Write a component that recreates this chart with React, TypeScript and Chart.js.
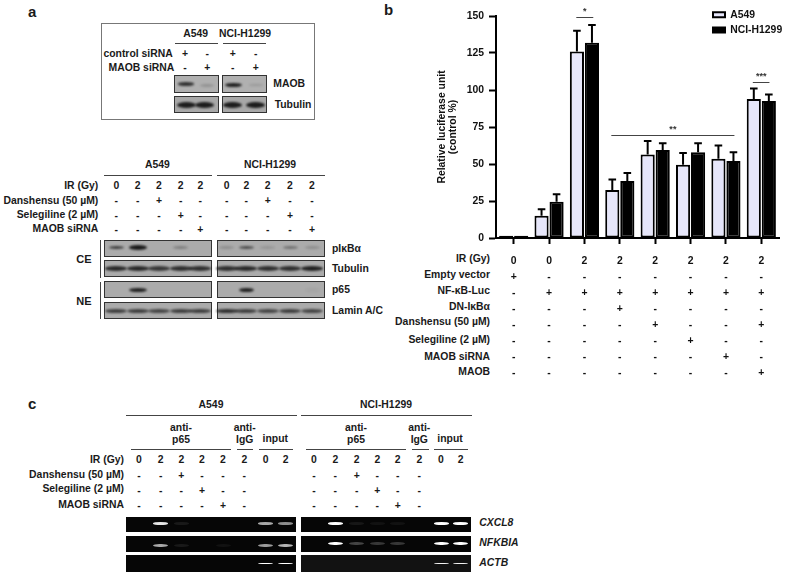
import React, { useEffect, useRef } from "react";
import { Chart, registerables } from "chart.js";

Chart.register(...registerables);

// ---------- panel b data ----------
const irRow = ["0", "0", "2", "2", "2", "2", "2", "2"];
const emptyVectorRow = ["+", "-", "-", "-", "-", "-", "-", "-"];
const nfkbRow = ["-", "+", "+", "+", "+", "+", "+", "+"];
const dnRow = ["-", "-", "-", "+", "-", "-", "-", "-"];
const danshensuRow = ["-", "-", "-", "-", "+", "-", "-", "+"];
const selegilineRow = ["-", "-", "-", "-", "-", "+", "-", "-"];
const maobSiRow = ["-", "-", "-", "-", "-", "-", "+", "-"];
const maobRow = ["-", "-", "-", "-", "-", "-", "-", "+"];
const rowTitles = ["IR (Gy)", "Empty vector", "NF-κB-Luc", "DN-IκBα", "Danshensu (50 µM)", "Selegiline (2 µM)", "MAOB siRNA", "MAOB"];
const a549Values = [1.5, 15, 126, 32.5, 56.5, 49.5, 53.5, 94];
const h1299Values = [1.5, 24.5, 132, 38.5, 59.5, 58, 52, 92.5];
const a549ErrorTops = [1.5, 19.5, 140, 39.5, 65.5, 57.5, 62.5, 101];
const h1299ErrorTops = [1.5, 29.5, 144, 44, 64, 64, 58, 97];
const sigLabels = ["*", "**", "***"];
const sigFrom = [1.77, 2.76, 6.76];
const sigTo = [2.25, 6.24, 7.23];
const sigValues = [149, 69.6, 105.5];

const FONT = "'Liberation Sans', Arial, sans-serif";
const categories = irRow.map((v, i) => [v, emptyVectorRow[i], nfkbRow[i], dnRow[i], danshensuRow[i], selegilineRow[i], maobSiRow[i], maobRow[i]]);

type TP = { x: number; y: number; t: string; a?: "l" | "c" | "r"; s?: number; i?: boolean };
const T = ({ x, y, t, a = "c", s = 10.4, i = false }: TP) => (
  <span
    style={{
      position: "absolute", left: x, top: y, whiteSpace: "nowrap", fontFamily: FONT, fontWeight: 700, fontSize: s,
      fontStyle: i ? "italic" : "normal", lineHeight: 1, color: "#1a1a1a",
      transform: `translate(${a === "l" ? "0" : a === "c" ? "-50%" : "-100%"},-50%)`,
    }}
  >{t}</span>
);
const Line = ({ x1, x2, y, c = "#444" }: { x1: number; x2: number; y: number; c?: string }) => (
  <div style={{ position: "absolute", left: x1, top: y - 0.5, width: x2 - x1, height: 1, background: c }} />
);
const Box = ({ x1, x2, y1, y2, bg, bd = "1.5px solid #333" }: { x1: number; x2: number; y1: number; y2: number; bg: string; bd?: string }) => (
  <div style={{ position: "absolute", left: x1, top: y1, width: x2 - x1, height: y2 - y1, background: bg, border: bd, boxSizing: "border-box" }} />
);
const Band = ({ x, y, w, h, c, b = 0.8 }: { x: number; y: number; w: number; h: number; c: string; b?: number }) => (
  <div style={{ position: "absolute", left: x - w / 2, top: y - h / 2, width: w, height: h, background: c, borderRadius: "50%", filter: `blur(${b}px)` }} />
);
const Row = ({ xs, y, vals }: { xs: number[]; y: number; vals: string[] }) => (
  <>{vals.map((v, i) => (v ? <T key={i} x={xs[i]} y={y} t={v} /> : null))}</>
);

// ---------- panel a / c layout ----------
const aTopX = [185, 207.3, 232.7, 255.7];
const aX = [116.3, 137.7, 159, 180.7, 200.3, 226.7, 246.3, 267.7, 290, 312];
const cX1 = [139, 160.7, 181.3, 202, 223, 244.3, 265.7, 285.7];
const cX2 = [314, 335.3, 356.7, 377.3, 397.7, 419.3, 441, 460.7];
const cX = [...cX1, ...cX2];
const cIR = ["0", "2", "2", "2", "2", "2", "0", "2", "0", "2", "2", "2", "2", "2", "0", "2"];
const cDan = ["-", "-", "+", "-", "-", "-", "", "", "-", "-", "+", "-", "-", "-", "", ""];
const cSel = ["-", "-", "-", "+", "-", "-", "", "", "-", "-", "-", "+", "-", "-", "", ""];
const cSi = ["-", "-", "-", "-", "+", "-", "", "", "-", "-", "-", "-", "+", "-", "", ""];

const dk = "#1c1c1c";
const grayBand = (v: number) => `rgba(25,25,25,${v})`;
const whiteBand = (v: number) => `rgba(255,255,255,${v})`;
const aLaneWest = [
  { y: 247.7, vals: [0.75, 1, 0, 0.3, 0, 0.2, 0.65, 0.15, 0.4, 0.2], h: 3 },
  { y: 268.5, vals: [0.9, 0.9, 0.8, 0.85, 0.85, 0.85, 0.9, 0.85, 0.85, 0.95], h: 4.5 },
  { y: 290, vals: [0, 0.95, 0, 0, 0, 0, 0.95, 0, 0, 0.04], h: 4 },
  { y: 310.5, vals: [0.75, 0.75, 0.7, 0.75, 0.75, 0.85, 0.75, 0.7, 0.75, 0.7], h: 4 },
];
const cGelRows = [
  { y: 523.5, h: 2.5, vals: [0, 0.9, 0.08, 0, 0, 0, 0.65, 0.55, 0, 1, 0.07, 0.05, 0.05, 0, 1, 1] },
  { y: 545.5, h: 3.5, vals: [0, 0.65, 0.08, 0, 0.05, 0, 0.6, 0.7, 0, 1, 0.25, 0.2, 0.2, 0, 1, 1] },
  { y: 563.5, h: 1.8, vals: [0, 0, 0, 0, 0, 0, 1, 1, 0, 0, 0, 0, 0, 0, 0.95, 0.95] },
];

export default function App() {
  const ref = useRef<HTMLCanvasElement>(null);
  useEffect(() => {
    const placement = {
      id: "placement",
      afterLayout(c: any) {
        if (c.legend) {
          const w = c.legend.right - c.legend.left;
          c.legend.left = 288;
          c.legend.right = 288 + w;
          c.legend.top = 4.5;
          c.legend.bottom = 60;
        }
      },
    };
    const errorBars = {
      id: "errorBars",
      afterDatasetsDraw(c: any) {
        const { ctx, scales } = c;
        ctx.save();
        ctx.strokeStyle = "#000";
        ctx.lineWidth = 2;
        c.data.datasets.forEach((ds: any, di: number) => {
          c.getDatasetMeta(di).data.forEach((el: any, i: number) => {
            const top = scales.y.getPixelForValue(ds.errorTops[i]);
            if (ds.errorTops[i] <= ds.data[i]) return;
            ctx.beginPath();
            ctx.moveTo(el.x, el.y);
            ctx.lineTo(el.x, top);
            ctx.moveTo(el.x - 3.8, top);
            ctx.lineTo(el.x + 3.8, top);
            ctx.stroke();
          });
        });
        ctx.restore();
      },
    };
    const significance = {
      id: "significance",
      afterDraw(c: any) {
        const { ctx, scales } = c;
        const step = scales.x.getPixelForValue(1) - scales.x.getPixelForValue(0);
        const x0 = scales.x.getPixelForValue(0);
        ctx.save();
        ctx.strokeStyle = "#444";
        ctx.lineWidth = 1;
        ctx.fillStyle = "#333";
        ctx.font = `700 9px ${FONT}`;
        ctx.textAlign = "center";
        sigLabels.forEach((label, i) => {
          const y = Math.round(scales.y.getPixelForValue(sigValues[i])) + 0.5;
          const a = x0 + sigFrom[i] * step;
          const b = x0 + sigTo[i] * step;
          ctx.beginPath();
          ctx.moveTo(a, y);
          ctx.lineTo(b, y);
          ctx.stroke();
          ctx.fillText(label, (a + b) / 2, y - 4);
        });
        ctx.restore();
      },
    };
    const tickFont = { family: FONT, weight: 700 as const, size: 10.4 };
    const chart = new Chart(ref.current as HTMLCanvasElement, {
      type: "bar",
      data: {
        labels: categories,
        datasets: [
          { label: "A549", data: a549Values, errorTops: a549ErrorTops, backgroundColor: "#e6e6fa", borderColor: "#000", borderWidth: 2, borderSkipped: false, categoryPercentage: 0.85, barPercentage: 0.94 } as any,
          { label: "NCI-H1299", data: h1299Values, errorTops: h1299ErrorTops, backgroundColor: "#000", borderColor: "#000", borderWidth: 2, borderSkipped: false, categoryPercentage: 0.85, barPercentage: 0.94 } as any,
        ],
      },
      options: {
        responsive: false,
        animation: false,
        layout: { padding: { left: 0, right: 8, top: 16, bottom: 0 } },
        plugins: {
          tooltip: { enabled: false },
          title: { display: false },
          legend: {
            position: "chartArea" as any,
            align: "start",
            labels: { boxWidth: 12, boxHeight: 5, padding: 5, color: "#111", font: { family: FONT, weight: 700 as const, size: 10.4 } },
          },
        },
        scales: {
          x: {
            afterFit: (s: any) => { s.height = 162; },
            border: { width: 2, color: "#000" },
            grid: { display: true, drawOnChartArea: false, offset: false, tickLength: 6, tickWidth: 2, tickColor: "#000" },
            ticks: { autoSkip: false, maxRotation: 0, minRotation: 0, padding: 9, color: "#111", font: { ...tickFont, lineHeight: "16px" } },
          },
          y: {
            min: 0,
            max: 150,
            afterFit: (s: any) => { s.width = 76; },
            border: { width: 2, color: "#000" },
            grid: { display: true, drawOnChartArea: false, tickLength: 7, tickWidth: 2, tickColor: "#000" },
            ticks: { stepSize: 25, padding: 5, color: "#111", font: tickFont },
            title: {
              display: true,
              text: ["Relative luciferase unit", "(control %)"],
              color: "#111",
              font: { ...tickFont, lineHeight: "11.7px" },
              padding: { top: 16, bottom: 0 },
            },
          },
        },
      } as any,
      plugins: [placement, errorBars, significance],
    });
    return () => chart.destroy();
  }, []);

  return (
    <div style={{ position: "absolute", left: 0, top: 0, width: 787, height: 575, overflow: "hidden", background: "#fff" }}>
      {/* panel a */}
      <T x={28} y={10.5} t="a" a="l" s={15} />
      <Box x1={100.7} x2={314.7} y1={22.7} y2={120} bg="#fff" bd="1.5px solid #777" />
      <T x={195.7} y={34} t="A549" />
      <T x={245} y={34} t="NCI-H1299" />
      <Line x1={175.3} x2={217.7} y={43.3} />
      <Line x1={223} x2={266} y={43.3} />
      <T x={172.7} y={54} t="control siRNA" a="r" />
      <T x={174.3} y={67.7} t="MAOB siRNA" a="r" />
      <Row xs={aTopX} y={54} vals={["+", "-", "+", "-"]} />
      <Row xs={aTopX} y={67.7} vals={["-", "+", "-", "+"]} />
      {[[174.3, 218.7], [222.3, 266.7]].map(([a, b], i) => (
        <React.Fragment key={i}>
          <Box x1={a} x2={b} y1={75.3} y2={92.7} bg="#b0b0b0" />
          <Box x1={a} x2={b} y1={95.7} y2={112.7} bg="#a8a8a8" />
        </React.Fragment>
      ))}
      <Band x={185.7} y={84} w={16} h={3.5} c={grayBand(0.85)} />
      <Band x={207} y={85} w={14} h={3} c={grayBand(0.2)} />
      <Band x={233.5} y={84.5} w={17} h={4} c={grayBand(0.95)} />
      <Band x={256} y={85} w={14} h={2.5} c={grayBand(0.15)} />
      {aTopX.map((x, i) => <Band key={i} x={x + (i === 1 ? -3 : 0) + (i === 0 ? 1 : 0)} y={104.5} w={19} h={6} c={dk} />)}
      <T x={273.3} y={84} t="MAOB" a="l" />
      <T x={274.7} y={104.7} t="Tubulin" a="l" />

      <T x={157.3} y={165.3} t="A549" />
      <T x={270} y={165.3} t="NCI-H1299" />
      <Line x1={104.3} x2={211.7} y={175.3} />
      <Line x1={217.3} x2={324.7} y={175.3} />
      <T x={98.3} y={186} t="IR (Gy)" a="r" />
      <T x={98.3} y={200.7} t="Danshensu (50 µM)" a="r" />
      <T x={98.3} y={215} t="Selegiline (2 µM)" a="r" />
      <T x={98.3} y={229.3} t="MAOB siRNA" a="r" />
      <Row xs={aX} y={186} vals={["0", "2", "2", "2", "2", "0", "2", "2", "2", "2"]} />
      <Row xs={aX} y={201} vals={["-", "-", "+", "-", "-", "-", "-", "+", "-", "-"]} />
      <Row xs={aX} y={215.5} vals={["-", "-", "-", "+", "-", "-", "-", "-", "+", "-"]} />
      <Row xs={aX} y={229.5} vals={["-", "-", "-", "-", "+", "-", "-", "-", "-", "+"]} />
      {[[240, 256.7], [260, 276.7], [281, 298], [302, 318.7]].map(([y1, y2], r) => (
        <React.Fragment key={r}>
          <Box x1={104} x2={211.7} y1={y1} y2={y2} bg="#ababab" />
          <Box x1={217.3} x2={325} y1={y1} y2={y2} bg="#ababab" />
        </React.Fragment>
      ))}
      {aLaneWest.flatMap((row, r) =>
        row.vals.map((v, i) => (v > 0 ? <Band key={`${r}-${i}`} x={aX[i]} y={row.y} w={r % 2 ? 22 : i === 1 ? 18 : 15} h={row.h + (r === 0 && i === 1 ? 2 : 0)} c={grayBand(v)} /> : null))
      )}
      <div style={{ position: "absolute", left: 99.5, top: 240, width: 1, height: 37.5, background: "#444" }} />
      <div style={{ position: "absolute", left: 99.5, top: 281.7, width: 1, height: 37, background: "#444" }} />
      <T x={84} y={258.7} t="CE" s={11} />
      <T x={84} y={300.7} t="NE" s={11} />
      <T x={332} y={249} t="pIκBα" a="l" />
      <T x={332} y={269} t="Tubulin" a="l" />
      <T x={332} y={290} t="p65" a="l" />
      <T x={332} y={311} t="Lamin A/C" a="l" />

      {/* panel b row titles */}
      {rowTitles.map((t, i) => (
        <T key={t} x={490} y={[258.7, 274.7, 290.5, 306.5, 322, 339.7, 357, 371.5][i]} t={t} a="r" />
      ))}

      {/* panel c */}
      <T x={28} y={402.7} t="c" a="l" s={15} />
      <T x={211} y={405.3} t="A549" />
      <T x={386} y={405.3} t="NCI-H1299" />
      <Line x1={125.7} x2={296.7} y={415} />
      <Line x1={301} x2={472} y={415} />
      {[[181, 244.7, 275.3], [356, 419.3, 450]].map(([p, g, inp], i) => (
        <React.Fragment key={i}>
          <T x={p} y={427.7} t="anti-" />
          <T x={p} y={440} t="p65" />
          <T x={g} y={427.7} t="anti-" />
          <T x={g} y={440} t="IgG" />
          <T x={inp} y={439.3} t="input" />
        </React.Fragment>
      ))}
      {[[131.3, 230.7], [236.7, 253.3], [259.3, 293.3], [306.3, 405.7], [411.7, 428.7], [433.7, 468]].map(([a, b]) => (
        <Line key={a} x1={a} x2={b} y={449.3} />
      ))}
      <T x={124} y={460} t="IR (Gy)" a="r" />
      <T x={124} y={474.7} t="Danshensu (50 µM)" a="r" />
      <T x={124} y={489.3} t="Selegiline (2 µM)" a="r" />
      <T x={124} y={505} t="MAOB siRNA" a="r" />
      <Row xs={cX} y={460} vals={cIR} />
      <Row xs={cX} y={476} vals={cDan} />
      <Row xs={cX} y={490.5} vals={cSel} />
      <Row xs={cX} y={506} vals={cSi} />
      {[[516.7, 532.3], [536, 552], [555.3, 572]].map(([y1, y2], r) => (
        <React.Fragment key={r}>
          <Box x1={125.7} x2={296.3} y1={y1} y2={y2} bg="#060606" bd="none" />
          <Box x1={301} x2={471} y1={y1} y2={y2} bg={r === 2 ? "#121212" : "#060606"} bd="none" />
        </React.Fragment>
      ))}
      {cGelRows.flatMap((row, r) =>
        row.vals.map((v, i) => (v > 0 ? <Band key={`g${r}-${i}`} x={cX[i]} y={row.y - (r === 1 && i >= 8 ? 2 : 0)} w={15} h={row.h} c={whiteBand(v)} b={0.6} /> : null))
      )}
      <T x={479.3} y={523.3} t="CXCL8" a="l" i />
      <T x={479.3} y={543.3} t="NFKBIA" a="l" i />
      <T x={479.3} y={562.7} t="ACTB" a="l" i />

      <T x={384} y={8.5} t="b" a="l" s={15} />
      <canvas ref={ref} width={367} height={400} style={{ position: "absolute", left: 420, top: 0, width: 367, height: 400 }} />
    </div>
  );
}
